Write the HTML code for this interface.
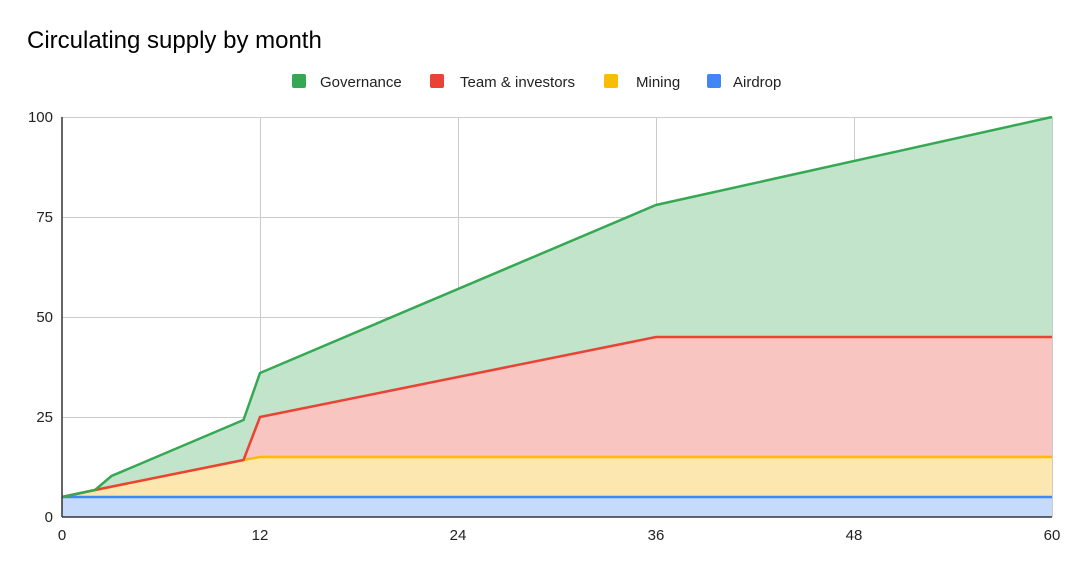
<!DOCTYPE html>
<html><head><meta charset="utf-8"><style>
body{margin:0;background:#fff;}
svg{display:block;font-family:"Liberation Sans",Arial,sans-serif;}
</style></head><body>
<svg width="1080" height="567" viewBox="0 0 1080 567">
<rect width="1080" height="567" fill="#fff"/>
<text x="27" y="48" font-size="24" fill="#000">Circulating supply by month</text>
<g font-size="15" fill="#222">
<rect x="292" y="74" width="14" height="14" rx="2" fill="#34a853"/><text x="320" y="87">Governance</text>
<rect x="430" y="74" width="14" height="14" rx="2" fill="#ea4335"/><text x="460" y="87">Team &amp; investors</text>
<rect x="604" y="74" width="14" height="14" rx="2" fill="#fbbc04"/><text x="636" y="87">Mining</text>
<rect x="707" y="74" width="14" height="14" rx="2" fill="#4285f4"/><text x="733" y="87">Airdrop</text>
</g>
<g stroke="#cccccc" stroke-width="1">
<line x1="62" y1="117.5" x2="1052" y2="117.5"/>
<line x1="62" y1="217.5" x2="1052" y2="217.5"/>
<line x1="62" y1="317.5" x2="1052" y2="317.5"/>
<line x1="62" y1="417.5" x2="1052" y2="417.5"/>
<line x1="260.5" y1="117" x2="260.5" y2="517"/>
<line x1="458.5" y1="117" x2="458.5" y2="517"/>
<line x1="656.5" y1="117" x2="656.5" y2="517"/>
<line x1="854.5" y1="117" x2="854.5" y2="517"/>
<line x1="1052.5" y1="117" x2="1052.5" y2="517"/>
</g>
<polygon fill="#c2e4cb" points="62,497 95,490 111.5,476 243.5,420 260,373 656,205 1052,117 1052,337 656,337 260,417 243.5,460 95,490"/>
<polygon fill="#f8c5c1" points="243.5,460 260,417 656,337 1052,337 1052,457 260,457"/>
<polygon fill="#fde7b0" points="62,497 95,490 243.5,460 260,457 1052,457 1052,497"/>
<rect x="62" y="497" width="990" height="20" fill="#c6dafc"/>
<polyline fill="none" stroke="#4285f4" stroke-width="2.5" points="62,497 1052,497"/>
<polyline fill="none" stroke="#fbbc04" stroke-width="2.5" points="62,497 95,490 243.5,460 260,457 1052,457"/>
<polyline fill="none" stroke="#ea4335" stroke-width="2.5" points="62,497 95,490 243.5,460 260,417 656,337 1052,337"/>
<polyline fill="none" stroke="#34a853" stroke-width="2.5" points="62,497 95,490 111.5,476 243.5,420 260,373 656,205 1052,117"/>
<line x1="62" y1="517" x2="1052" y2="517" stroke="#333" stroke-width="1.5"/>
<line x1="62" y1="117" x2="62" y2="517" stroke="#333" stroke-width="1.5"/>
<g font-size="15" fill="#222" text-anchor="end">
<text x="53" y="122">100</text><text x="53" y="222">75</text><text x="53" y="322">50</text><text x="53" y="422">25</text><text x="53" y="522">0</text>
</g>
<g font-size="15" fill="#222" text-anchor="middle">
<text x="62" y="540">0</text><text x="260" y="540">12</text><text x="458" y="540">24</text><text x="656" y="540">36</text><text x="854" y="540">48</text><text x="1052" y="540">60</text>
</g>
</svg>
</body></html>
